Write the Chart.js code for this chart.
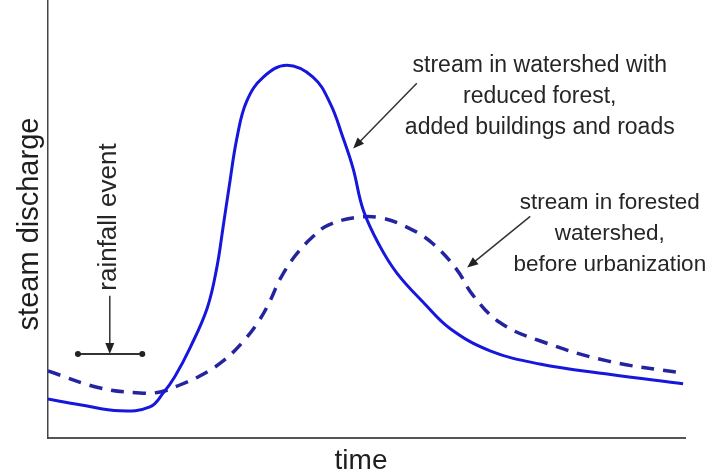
<!DOCTYPE html>
<html>
<head>
<meta charset="utf-8">
<script src="https://cdn.jsdelivr.net/npm/chart.js@4/dist/chart.umd.min.js"></script>
<style>
  html, body { margin: 0; padding: 0; background: #fff; }
  #hydro { display: block; }
</style>
</head>
<body>
<canvas id="hydro" width="711" height="472"></canvas>
<script>
// hydrograph: urbanized vs forested watershed

// urbanized watershed (solid line)
const urbanTime = [0, 5.0, 11.3, 16.0, 18.1, 19.9, 22.3, 25.0, 26.5, 27.5, 28.4, 29.7, 31.2, 33.8, 37.5, 41.6, 44.3, 46.3, 47.9, 49.5, 52.1, 54.8, 58.9, 63.1, 69.4, 77.2, 87.8, 99.7];
const urbanFlow = [8.9, 7.6, 6.2, 7.1, 10.3, 14.0, 20.6, 29.7, 38.9, 48.3, 57.0, 68.8, 76.9, 82.4, 85.1, 82.4, 76.4, 68.6, 61.5, 52.0, 43.8, 37.6, 31.0, 25.0, 19.9, 16.9, 14.6, 12.4];

// forested watershed (dashed line)
const forestTime = [0, 8.2, 14.4, 17.6, 20.7, 23.9, 27.5, 30.5, 33.0, 34.9, 36.4, 38.8, 41.6, 44.0, 48.2, 52.1, 56.4, 60.4, 64.2, 66.7, 71.0, 77.2, 87.8, 99.2];
const forestFlow = [15.3, 11.4, 10.3, 10.5, 12.1, 14.2, 17.6, 21.8, 26.5, 31.4, 36.2, 41.6, 46.0, 48.6, 50.3, 50.3, 48.1, 44.4, 38.4, 32.6, 26.3, 22.2, 17.6, 14.9];

const xTitle = 'time';
const yTitle = 'steam discharge';
const urbanNote = ['stream in watershed with', 'reduced forest,', 'added buildings and roads'];
const forestNote = ['stream in forested', 'watershed,', 'before urbanization'];
const rainNote = 'rainfall event';

const FONT = '"Liberation Sans", Arial, Helvetica, sans-serif';

function toPoints(xs, ys) {
  return xs.map((x, i) => ({ x: x, y: ys[i] }));
}

function arrow(ctx, x1, y1, x2, y2) {
  const ang = Math.atan2(y2 - y1, x2 - x1);
  const len = 11, half = 4.5;
  ctx.beginPath();
  ctx.moveTo(x1, y1);
  ctx.lineTo(x2 - Math.cos(ang) * len * 0.8, y2 - Math.sin(ang) * len * 0.8);
  ctx.stroke();
  ctx.beginPath();
  ctx.moveTo(x2, y2);
  ctx.lineTo(x2 - Math.cos(ang) * len + Math.sin(ang) * half, y2 - Math.sin(ang) * len - Math.cos(ang) * half);
  ctx.lineTo(x2 - Math.cos(ang) * len - Math.sin(ang) * half, y2 - Math.sin(ang) * len + Math.cos(ang) * half);
  ctx.closePath();
  ctx.fill();
}

// axis titles + arrows + notes
const notesPlugin = {
  id: 'notes',
  afterDraw(chart) {
    const { ctx } = chart;
    const xs = chart.scales.x, ys = chart.scales.y;
    const px = v => xs.getPixelForValue(v);
    const py = v => ys.getPixelForValue(v);

    ctx.save();
    ctx.fillStyle = '#1e1e1e';
    ctx.textAlign = 'center';

    // axis titles
    ctx.font = '28px ' + FONT;
    ctx.textBaseline = 'alphabetic';
    ctx.fillText(xTitle, 361, 469);
    ctx.font = '29px ' + FONT;
    ctx.save();
    ctx.translate(38, 224);
    ctx.rotate(-Math.PI / 2);
    ctx.fillText(yTitle, 0, 0);
    ctx.restore();

    // notes
    ctx.fillStyle = '#262626';
    ctx.font = '23px ' + FONT;
    ctx.textBaseline = 'middle';
    urbanNote.forEach((t, i) => ctx.fillText(t, px(77.2), py(84.9) + i * 31));
    ctx.font = '22.5px ' + FONT;
    forestNote.forEach((t, i) => ctx.fillText(t, px(88.2), py(53.8) + i * 31));

    ctx.font = '26px ' + FONT;
    ctx.textBaseline = 'alphabetic';
    ctx.save();
    ctx.translate(116, 217);
    ctx.rotate(-Math.PI / 2);
    ctx.fillText(rainNote, 0, 0);
    ctx.restore();

    // arrows
    ctx.strokeStyle = '#333';
    ctx.fillStyle = '#222';
    ctx.lineWidth = 1.5;
    arrow(ctx, px(57.9), py(81.0), px(47.9), py(66.1));
    arrow(ctx, px(75.7), py(50.6), px(65.8), py(38.9));
    arrow(ctx, px(9.7), py(32.5), px(9.7), py(19.2));

    // rainfall duration bar
    ctx.lineWidth = 2;
    ctx.beginPath();
    ctx.moveTo(px(4.7), py(19.2));
    ctx.lineTo(px(14.8), py(19.2));
    ctx.stroke();
    [4.7, 14.8].forEach(v => {
      ctx.beginPath();
      ctx.arc(px(v), py(19.2), 3, 0, Math.PI * 2);
      ctx.fill();
    });
    ctx.restore();
  }
};

const canvas = document.getElementById('hydro');
const ctx = canvas.getContext('2d');

new Chart(ctx, {
  type: 'line',
  data: {
    datasets: [
      {
        label: 'urbanized',
        data: toPoints(urbanTime, urbanFlow),
        borderColor: '#1616dc',
        borderWidth: 3,
        pointRadius: 0,
        tension: 0.4,
        fill: false
      },
      {
        label: 'forested',
        data: toPoints(forestTime, forestFlow),
        borderColor: '#24249e',
        borderWidth: 3.5,
        borderDash: [13, 9],
        pointRadius: 0,
        tension: 0.4,
        fill: false
      }
    ]
  },
  options: {
    responsive: false,
    animation: false,
    layout: { padding: { left: 48, right: 26, top: 0, bottom: 34 } },
    plugins: {
      legend: { display: false },
      tooltip: { enabled: false }
    },
    scales: {
      x: {
        type: 'linear',
        min: 0,
        max: 100,
        ticks: { display: false },
        grid: { display: false, drawTicks: false },
        border: { display: true, color: '#555', width: 2 }
      },
      y: {
        min: 0,
        max: 100,
        ticks: { display: false },
        grid: { display: false, drawTicks: false },
        border: { display: true, color: '#444', width: 1.5 }
      }
    }
  },
  plugins: [notesPlugin]
});
</script>
</body>
</html>
